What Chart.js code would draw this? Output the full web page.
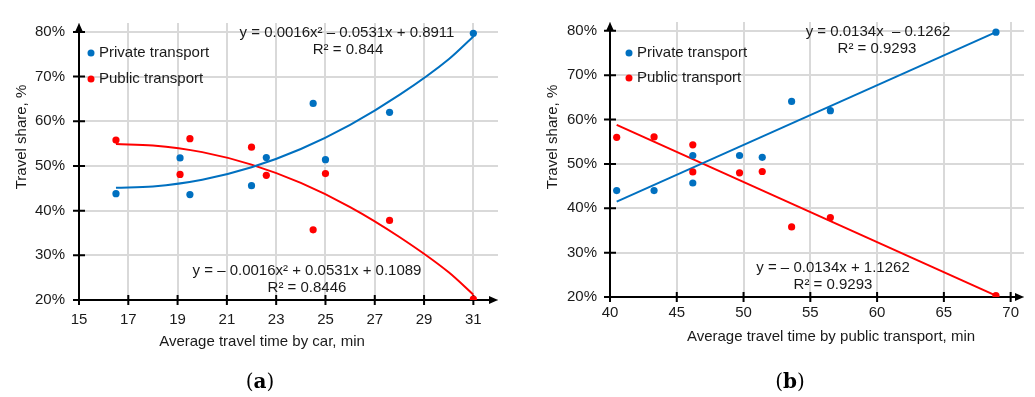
<!DOCTYPE html>
<html>
<head>
<meta charset="utf-8">
<script src="https://cdn.jsdelivr.net/npm/chart.js@4.4.0/dist/chart.umd.min.js"></script>
<style>
  body { margin: 0; background: #fff; }
  #wrap { position: relative; width: 1035px; height: 397px; overflow: hidden; }
  canvas { position: absolute; top: 0; }
  #chartA { left: 0; }
  #chartB { left: 517px; }
  .caption { position: absolute; top: 368px; width: 100px; text-align: center;
             font-family: 'DejaVu Serif', 'Liberation Serif', serif; font-size: 20px; line-height: 26px; color: #000; }
</style>
</head>
<body>
<div id="wrap">
  <canvas id="chartA" width="517" height="397"></canvas>
  <canvas id="chartB" width="518" height="397"></canvas>
  <div class="caption" style="left:210px">(<b>a</b>)</div>
  <div class="caption" style="left:740px">(<b>b</b>)</div>
</div>
<script>
// ---- datos ----
// (a) tempo médio de viagem de carro
const carTime    = [16.5, 19.1, 19.5, 22.0, 22.6, 24.5, 25.0, 27.6, 31.0];
const carPrivate = [43.8, 51.8, 43.6, 45.6, 51.9, 64.0, 51.4, 62.0, 79.7];
const carPublic  = [55.8, 48.1, 56.1, 54.2, 47.9, 35.7, 48.3, 37.8, 20.2];
// linhas de tendência (polinomiais)
const carFitX       = [16.5, 18, 20, 22, 24, 26, 28, 30, 31];
const carFitPrivate = [45.1, 45.4, 46.9, 49.7, 53.8, 59.2, 65.9, 73.9, 79.0];
const carFitPublic  = [54.9, 54.6, 53.1, 50.3, 46.2, 40.8, 34.1, 26.2, 21.2];

// (b) tempo médio de viagem de transporte público
const ptTime    = [40.5, 43.3, 46.2, 46.2, 49.7, 51.4, 53.6, 56.5, 68.9];
const ptPrivate = [44.0, 44.0, 45.7, 51.9, 51.9, 51.5, 64.1, 62.0, 79.7];
const ptPublic  = [56.0, 56.1, 54.3, 48.2, 48.0, 48.3, 35.8, 37.9, 20.3];
const ptFitX       = [40.5, 68.9];
const ptFitPrivate = [41.5, 79.7];
const ptFitPublic  = [58.8, 20.3];

// rótulos dos eixos
const carTicks   = [15, 17, 19, 21, 23, 25, 27, 29, 31];
const ptTicks    = [40, 45, 50, 55, 60, 65, 70];
const shareTicks = [20, 30, 40, 50, 60, 70, 80];

const BLUE = '#0070C0';
const RED = '#FF0000';
const FONT = "'Liberation Sans', Arial, sans-serif";
const TXT = '#1a1a1a';
const FS = 15;

const pts = (xs, ys) => xs.map((x, i) => ({ x: x, y: ys[i] }));

// eixos pretos com setas e marcas cruzadas
const axisArrows = {
    id: 'axisArrows',
    beforeDatasetsDraw(chart) {
        const { ctx, chartArea: a, scales: { x, y } } = chart;
        ctx.save();
        ctx.strokeStyle = '#000';
        ctx.fillStyle = '#000';
        ctx.lineWidth = 2;
        ctx.beginPath();
        ctx.moveTo(a.left, a.bottom);
        ctx.lineTo(a.left, a.top + 6);
        ctx.moveTo(a.left, a.bottom);
        ctx.lineTo(a.right - 6, a.bottom);
        y.ticks.forEach(t => {
            const py = y.getPixelForValue(t.value);
            ctx.moveTo(a.left - 6, py);
            ctx.lineTo(a.left + 6, py);
        });
        x.ticks.forEach(t => {
            const px = x.getPixelForValue(t.value);
            ctx.moveTo(px, a.bottom - 5);
            ctx.lineTo(px, a.bottom + 5);
        });
        ctx.stroke();
        // setas
        ctx.beginPath();
        ctx.moveTo(a.left, a.top);
        ctx.lineTo(a.left - 4, a.top + 9);
        ctx.lineTo(a.left + 4, a.top + 9);
        ctx.closePath();
        ctx.moveTo(a.right, a.bottom);
        ctx.lineTo(a.right - 9, a.bottom - 4);
        ctx.lineTo(a.right - 9, a.bottom + 4);
        ctx.closePath();
        ctx.fill();
        ctx.restore();
    }
};

// legenda, títulos dos eixos e equações
const notes = {
    id: 'notes',
    afterDraw(chart, args, opts) {
        const ctx = chart.ctx;
        ctx.save();
        ctx.font = FS + 'px ' + FONT;
        ctx.fillStyle = TXT;
        ctx.textBaseline = 'middle';
        // legenda
        chart.data.datasets.slice(0, 2).forEach((ds, i) => {
            const ly = opts.legend.y + i * opts.legend.gap;
            ctx.fillStyle = ds.backgroundColor;
            ctx.beginPath();
            ctx.arc(opts.legend.x, ly, 3.5, 0, Math.PI * 2);
            ctx.fill();
            ctx.fillStyle = TXT;
            ctx.textAlign = 'left';
            ctx.fillText(ds.label, opts.legend.x + 8, ly);
        });
        ctx.textAlign = 'center';
        // equações das tendências
        opts.labels.forEach(l => ctx.fillText(l.text, l.x, l.y));
        // título do eixo x
        ctx.fillText(opts.xTitle.text, opts.xTitle.x, opts.xTitle.y);
        // título do eixo y (girado)
        ctx.translate(opts.yTitle.x, opts.yTitle.y);
        ctx.rotate(-Math.PI / 2);
        ctx.fillText(opts.yTitle.text, 0, 0);
        ctx.restore();
    }
};

function makeOptions(xMin, xMax, xTicks, lay) {
    return {
        responsive: false,
        animation: false,
        layout: { padding: lay.padding },
        plugins: {
            legend: { display: false },
            tooltip: { enabled: false },
            notes: { legend: lay.legend, labels: lay.labels, xTitle: lay.xTitle, yTitle: lay.yTitle }
        },
        scales: {
            x: {
                type: 'linear',
                min: xMin,
                max: xMax,
                afterBuildTicks: s => { s.ticks = xTicks.map(v => ({ value: v })); },
                afterFit: s => { s.height = lay.xHeight; },
                ticks: { padding: lay.xPad, color: TXT, font: { family: FONT, size: FS } },
                grid: { color: '#d9d9d9', lineWidth: 2, drawTicks: false },
                border: { display: false }
            },
            y: {
                min: 20,
                max: 82,
                afterBuildTicks: s => { s.ticks = shareTicks.map(v => ({ value: v })); },
                afterFit: s => { s.width = lay.yWidth; },
                ticks: { padding: lay.yPad, color: TXT, font: { family: FONT, size: FS }, callback: v => v + '%' },
                grid: { color: '#d9d9d9', lineWidth: 2, drawTicks: false },
                border: { display: false }
            }
        }
    };
}

function makeDatasets(xs, priv, pub, fitX, fitPriv, fitPub, curved) {
    const dot = (label, ys, color) => ({
        label: label, data: pts(xs, ys), showLine: false,
        backgroundColor: color, borderColor: color, pointRadius: 3.6, pointBorderWidth: 0
    });
    const fit = (label, ys, color) => ({
        label: label, data: pts(fitX, ys), showLine: true,
        borderColor: color, backgroundColor: color, borderWidth: 2, pointRadius: 0,
        cubicInterpolationMode: curved ? 'monotone' : 'default', tension: 0
    });
    return [
        dot('Private transport', priv, BLUE),
        dot('Public transport', pub, RED),
        fit('Trend private', fitPriv, BLUE),
        fit('Trend public', fitPub, RED)
    ];
}

new Chart(document.getElementById('chartA'), {
    type: 'scatter',
    data: { datasets: makeDatasets(carTime, carPrivate, carPublic, carFitX, carFitPrivate, carFitPublic, true) },
    options: makeOptions(15, 32, carTicks, {
        padding: { left: 0, top: 13, right: 19, bottom: 47 },
        yWidth: 79, xHeight: 50, xPad: 11, yPad: 14,
        legend: { x: 91, y: 53, gap: 26 },
        xTitle: { text: 'Average travel time by car, min', x: 262, y: 342 },
        yTitle: { text: 'Travel share, %', x: 22, y: 137 },
        labels: [
            { text: 'y = 0.0016x\u00b2 \u2013 0.0531x + 0.8911', x: 347, y: 33 },
            { text: 'R\u00b2 = 0.844', x: 348, y: 50 },
            { text: 'y = \u2013 0.0016x\u00b2 + 0.0531x + 0.1089', x: 307, y: 271 },
            { text: 'R\u00b2 = 0.8446', x: 307, y: 288 }
        ]
    }),
    plugins: [axisArrows, notes]
});

new Chart(document.getElementById('chartB'), {
    type: 'scatter',
    data: { datasets: makeDatasets(ptTime, ptPrivate, ptPublic, ptFitX, ptFitPrivate, ptFitPublic, false) },
    options: makeOptions(40, 71, ptTicks, {
        padding: { left: 0, top: 14, right: 11, bottom: 52 },
        yWidth: 93, xHeight: 48, xPad: 7, yPad: 13,
        legend: { x: 112, y: 53, gap: 25 },
        xTitle: { text: 'Average travel time by public transport, min', x: 314, y: 337 },
        yTitle: { text: 'Travel share, %', x: 36, y: 137 },
        labels: [
            { text: 'y = 0.0134x  \u2013 0.1262', x: 361, y: 32 },
            { text: 'R\u00b2 = 0.9293', x: 360, y: 49 },
            { text: 'y = \u2013 0.0134x + 1.1262', x: 316, y: 268 },
            { text: 'R\u00b2 = 0.9293', x: 316, y: 285 }
        ]
    }),
    plugins: [axisArrows, notes]
});
</script>
</body>
</html>
